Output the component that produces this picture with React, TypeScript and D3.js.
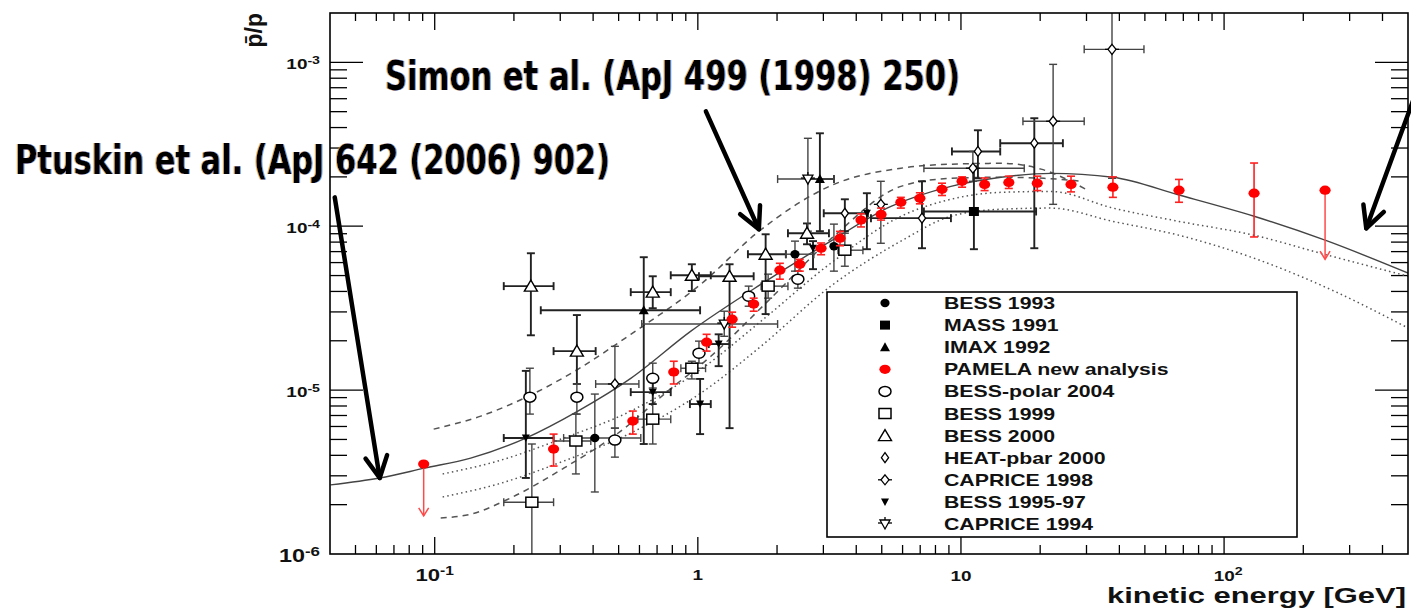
import React from "react";
import * as d3 from "d3";

const W = 1411;
const H = 612;

// axis domains
const X_DOMAIN: [number, number] = [0.04, 500];
const Y_DOMAIN: [number, number] = [1e-6, 2e-3];

// theory curves: [kinetic energy (GeV), pbar/p]
const PTUSKIN_2006: [number, number][] = [
  [0.0402, 2.64e-6], [0.0618, 2.91e-6], [0.0916, 3.34e-6], [0.137, 3.85e-6],
  [0.222, 5.1e-6], [0.35, 7.45e-6], [0.556, 1.18e-5], [0.941, 2.29e-5],
  [1.74, 4.43e-5], [3.2, 8.11e-5], [5.42, 1.32e-4], [9.16, 1.75e-4],
  [14.2, 1.99e-4], [22.0, 2.1e-4], [37.8, 1.99e-4], [67.4, 1.55e-4],
  [130, 1.15e-4], [242, 8.22e-5], [501, 5.17e-5],
];
const SIMON_UPPER: [number, number][] = [
  [0.0991, 5.78e-6], [0.1496, 6.94e-6], [0.2317, 9.33e-6], [0.3499, 1.34e-5],
  [0.5559, 2.19e-5], [1.027, 4.43e-5], [1.69, 9.19e-5], [3.289, 1.8e-4],
  [5.913, 2.26e-4], [9.16, 2.39e-4], [14.19, 2.42e-4], [20.16, 2.23e-4],
  [29.87, 1.68e-4],
];
const SIMON_LOWER: [number, number][] = [
  [0.1054, 1.66e-6], [0.1371, 1.75e-6], [0.1946, 2.2e-6], [0.3093, 3.34e-6],
  [0.5094, 5.62e-6], [0.7689, 9.86e-6], [1.121, 1.61e-5], [1.846, 3.49e-5],
  [3.289, 8.69e-5], [5.913, 1.75e-4], [9.16, 1.96e-4], [14.19, 1.99e-4],
  [20.69, 1.96e-4], [29.1, 1.88e-4],
];
const DONATO_UPPER: [number, number][] = [
  [0.1072, 3.08e-6], [0.1737, 3.69e-6], [0.3093, 5.1e-6], [0.5559, 7.45e-6],
  [1.027, 1.34e-5], [1.737, 2.63e-5], [3.203, 5.95e-5], [5.913, 1.15e-4],
  [9.16, 1.46e-4], [14.19, 1.61e-4], [21.99, 1.63e-4], [37.84, 1.29e-4],
  [67.4, 1.07e-4], [130, 8.81e-5], [239.9, 6.75e-5], [500.8, 4.95e-5],
];
const DONATO_LOWER: [number, number][] = [
  [0.1072, 2.23e-6], [0.1737, 2.67e-6], [0.3093, 3.69e-6], [0.5559, 5.47e-6],
  [1.027, 9.59e-6], [1.737, 1.85e-5], [3.203, 4.31e-5], [5.913, 8.11e-5],
  [9.16, 1.15e-4], [14.19, 1.27e-4], [21.99, 1.29e-4], [37.84, 1.07e-4],
  [67.4, 8.81e-5], [130, 6.38e-5], [261.8, 4.02e-5], [500.8, 2.39e-5],
];

// PAMELA new analysis
const PAMELA_E = [0.283, 0.566, 0.81, 1.08, 1.35, 1.63, 2.05, 2.44, 2.94, 3.47, 4.17, 4.97, 5.91, 6.98, 8.47, 10.1, 12.3, 15.2, 19.5, 26.2, 37.8, 67.4, 130];
const PAMELA_V = [4.37e-6, 6.47e-6, 1.29e-5, 1.96e-5, 2.71e-5, 3.35e-5, 5.39e-5, 5.86e-5, 7.34e-5, 8.45e-5, 1.09e-4, 1.18e-4, 1.4e-4, 1.48e-4, 1.68e-4, 1.88e-4, 1.8e-4, 1.85e-4, 1.83e-4, 1.8e-4, 1.73e-4, 1.66e-4, 1.59e-4];
const PAMELA_LO = [3.44e-6, 5.39e-6, 1.09e-5, 1.73e-5, 2.42e-5, 3.03e-5, 4.75e-5, 5.32e-5, 6.7e-5, 7.6e-5, 9.9e-5, 1.09e-4, 1.29e-4, 1.37e-4, 1.54e-4, 1.73e-4, 1.65e-4, 1.7e-4, 1.65e-4, 1.62e-4, 1.5e-4, 1.4e-4, 8.6e-5];
const PAMELA_HI = [5.39e-6, 7.45e-6, 1.5e-5, 2.19e-5, 2.99e-5, 3.64e-5, 5.94e-5, 6.28e-5, 7.9e-5, 9.3e-5, 1.19e-4, 1.29e-4, 1.5e-4, 1.6e-4, 1.83e-4, 2.0e-4, 1.97e-4, 2.02e-4, 2.02e-4, 2.02e-4, 2.0e-4, 1.93e-4, 2.43e-4];
// PAMELA upper limits: energy, central value, arrow end
const PAMELA_UL_E = [0.0908, 242];
const PAMELA_UL_V = [3.54e-6, 1.66e-4];
const PAMELA_UL_END = [1.71e-6, 6.29e-5];

// other experiments: [E, ratio, Emin, Emax, ratioMin, ratioMax]
type Row = [number, number, number, number, number, number];
const BESS_1993: Row[] = [
  [0.406, 5.1e-6, 0.309, 0.607, 2.39e-6, 9.46e-6],
  [2.34, 6.75e-5, 2.16, 2.76, 5.32e-5, 8.11e-5],
  [3.29, 7.55e-5, 3.29, 3.29, 5.32e-5, 1.03e-4],
];
const MASS_1991: Row[] = [[11.2, 1.23e-4, 7.23, 19.3, 7.24e-5, 2.32e-4]];
const IMAX_1992: Row[] = [
  [0.623, 3.07e-5, 0.253, 1.02, 4.69e-6, 6.47e-5],
  [2.91, 1.94e-4, 2.62, 3.29, 9.33e-5, 3.69e-4],
];
const BESS_POLAR_2004: Row[] = [
  [0.23, 9.06e-6, 0.23, 0.23, 7.14e-6, 1.36e-5],
  [0.347, 9.06e-6, 0.347, 0.347, 7.14e-6, 1.09e-5],
  [0.484, 4.96e-6, 0.484, 0.484, 3.9e-6, 5.86e-6],
  [0.674, 1.18e-5, 0.674, 0.674, 1.03e-5, 1.46e-5],
  [1.01, 1.68e-5, 1.01, 1.01, 1.46e-5, 1.99e-5],
  [1.56, 3.74e-5, 1.56, 1.56, 3.25e-5, 4.31e-5],
  [2.4, 4.75e-5, 2.4, 2.4, 4.19e-5, 5.32e-5],
];
const BESS_1999: Row[] = [
  [0.234, 2.07e-6, 0.183, 0.283, 9.5e-7, 4.69e-6],
  [0.344, 4.89e-6, 0.283, 0.392, 3.08e-6, 7.14e-6],
  [0.674, 6.65e-6, 0.591, 0.789, 4.69e-6, 9.59e-6],
  [0.949, 1.36e-5, 0.862, 1.07, 1.17e-5, 1.5e-5],
  [1.85, 4.31e-5, 1.74, 2.2, 3.64e-5, 5.1e-5],
  [3.62, 7.14e-5, 3.41, 4.24, 5.7e-5, 9.06e-5],
];
const BESS_2000: Row[] = [
  [0.232, 4.31e-5, 0.183, 0.283, 2.16e-5, 6.84e-5],
  [0.347, 1.73e-5, 0.283, 0.409, 1.09e-5, 2.87e-5],
  [0.674, 3.96e-5, 0.556, 0.789, 3.16e-5, 4.95e-5],
  [0.949, 5.02e-5, 0.789, 1.12, 4.02e-5, 5.86e-5],
  [1.32, 4.95e-5, 1.01, 1.63, 5.86e-6, 5.86e-5],
  [1.81, 6.75e-5, 1.55, 2.16, 2.91e-5, 8.93e-5],
  [2.6, 9.06e-5, 2.2, 3.15, 7.76e-5, 1.04e-4],
];
const HEAT_PBAR_2000: Row[] = [
  [3.62, 1.2e-4, 3.01, 4.43, 9.33e-5, 1.46e-4],
  [7.11, 1.12e-4, 4.55, 9.16, 7.34e-5, 1.88e-4],
  [11.6, 2.86e-4, 9.24, 14.1, 1.96e-4, 3.85e-4],
  [19.0, 3.21e-4, 14.1, 24.4, 7.34e-5, 4.56e-4],
];
const CAPRICE_1998: Row[] = [
  [0.484, 1.09e-5, 0.409, 0.597, 5.86e-6, 1.85e-5],
  [4.96, 1.36e-4, 4.96, 4.96, 7.87e-5, 1.88e-4],
  [11.1, 2.26e-4, 7.23, 17.4, 1.88e-4, 2.86e-4],
  [22.4, 4.37e-4, 17.2, 29.4, 1.36e-4, 9.72e-4],
  [37.5, 1.2e-3, 29.4, 49.6, 1.96e-4, 2.5e-3],
];
const BESS_1995_97: Row[] = [
  [0.222, 5.1e-6, 0.183, 0.283, 2.91e-6, 1.31e-5],
  [0.674, 9.72e-6, 0.556, 0.789, 8.22e-6, 1.17e-5],
  [1.02, 8.22e-6, 0.933, 1.12, 5.39e-6, 1.17e-5],
  [1.2, 1.91e-5, 1.1, 1.32, 1.4e-5, 2.19e-5],
  [2.74, 7.34e-5, 2.74, 2.74, 5.47e-5, 8.11e-5],
  [4.39, 1.2e-4, 4.39, 4.39, 7.24e-5, 1.59e-4],
];
const CAPRICE_1994: Row[] = [
  [1.26, 2.53e-5, 0.612, 2.01, 2.13e-5, 3.03e-5],
  [2.62, 1.94e-4, 2.01, 3.29, 9.33e-5, 3.44e-4],
];

const LEGEND_LABELS = [
  "BESS 1993", "MASS 1991", "IMAX 1992", "PAMELA new analysis", "BESS-polar 2004",
  "BESS 1999", "BESS 2000", "HEAT-pbar 2000", "CAPRICE 1998", "BESS 1995-97", "CAPRICE 1994",
];
const LEGEND_KINDS = [
  "bess93", "mass", "imax", "pamela", "polar", "bess99", "bess00", "heat", "caprice98", "bess9597", "caprice94",
];

const SERIES: { kind: string; rows: Row[] }[] = [
  { kind: "bess99", rows: BESS_1999 },
  { kind: "bess00", rows: BESS_2000 },
  { kind: "polar", rows: BESS_POLAR_2004 },
  { kind: "imax", rows: IMAX_1992 },
  { kind: "caprice94", rows: CAPRICE_1994 },
  { kind: "heat", rows: HEAT_PBAR_2000 },
  { kind: "caprice98", rows: CAPRICE_1998 },
  { kind: "bess9597", rows: BESS_1995_97 },
  { kind: "bess93", rows: BESS_1993 },
  { kind: "mass", rows: MASS_1991 },
];

// annotation arrows in data coordinates: [E0, v0, E1, v1] (tail -> tip)
const ARROWS: [number, number, number, number][] = [
  [0.0417, 1.5e-4, 0.0618, 2.91e-6],
  [1.073, 5.02e-4, 1.706, 9.59e-5],
  [542, 6.84e-4, 347, 9.72e-5],
];

const FONT = "'Liberation Sans', Arial, Helvetica, sans-serif";
const NARROW = "'Liberation Sans Narrow', 'Arial Narrow', 'DejaVu Sans Condensed', sans-serif";

const xS = d3.scaleLog().domain(X_DOMAIN).range([330, 1408]);
const yS = d3.scaleLog().domain(Y_DOMAIN).range([554, 13]);

function Marker({ kind, cx, cy }: { kind: string; cx: number; cy: number }) {
  switch (kind) {
    case "bess93":
      return <ellipse cx={cx} cy={cy} rx={4.6} ry={4.2} fill="#000" />;
    case "mass":
      return <rect x={cx - 5} y={cy - 4.5} width={10} height={9} fill="#000" />;
    case "imax":
      return <path d={`M${cx - 5},${cy + 4} L${cx + 5},${cy + 4} L${cx},${cy - 5} Z`} fill="#000" />;
    case "pamela":
      return <ellipse cx={cx} cy={cy} rx={5.6} ry={4.6} fill="#ff0000" />;
    case "polar":
      return <ellipse cx={cx} cy={cy} rx={6} ry={5} fill="#fff" stroke="#000" strokeWidth={1.5} />;
    case "bess99":
      return <rect x={cx - 6} y={cy - 5} width={12} height={10} fill="#fff" stroke="#000" strokeWidth={1.5} />;
    case "bess00":
      return <path d={`M${cx - 6.5},${cy + 5} L${cx + 6.5},${cy + 5} L${cx},${cy - 6} Z`} fill="#fff" stroke="#000" strokeWidth={1.4} />;
    case "heat":
      return <path d={`M${cx},${cy - 5} L${cx + 3.6},${cy} L${cx},${cy + 5} L${cx - 3.6},${cy} Z`} fill="#fff" stroke="#000" strokeWidth={1.3} />;
    case "caprice98":
      return (
        <g stroke="#000" strokeWidth={1.3}>
          <path d={`M${cx},${cy - 5} L${cx + 4},${cy} L${cx},${cy + 5} L${cx - 4},${cy} Z`} fill="#fff" />
          <line x1={cx - 7} y1={cy} x2={cx - 4} y2={cy} />
          <line x1={cx + 4} y1={cy} x2={cx + 7} y2={cy} />
        </g>
      );
    case "bess9597":
      return <path d={`M${cx - 4},${cy - 3.5} L${cx + 4},${cy - 3.5} L${cx},${cy + 4} Z`} fill="#000" />;
    case "caprice94":
      return (
        <g stroke="#000" strokeWidth={1.3}>
          <path d={`M${cx - 5},${cy - 4} L${cx + 5},${cy - 4} L${cx},${cy + 5} Z`} fill="#fff" />
          <line x1={cx - 7} y1={cy - 1} x2={cx - 3} y2={cy - 1} />
          <line x1={cx + 3} y1={cy - 1} x2={cx + 7} y2={cy - 1} />
          <line x1={cx} y1={cy - 7} x2={cx} y2={cy - 4} />
        </g>
      );
    default:
      return null;
  }
}

function ErrorBars({ r, color, w }: { r: Row; color: string; w: number }) {
  const cx = xS(r[0]);
  const cy = yS(r[1]);
  const x0 = xS(r[2]);
  const x1 = xS(r[3]);
  const yLo = yS(r[4]);
  const yHi = yS(r[5]);
  const c = 4;
  return (
    <g stroke={color} strokeWidth={w} fill="none">
      <line x1={cx} y1={yHi} x2={cx} y2={yLo} />
      <line x1={cx - c} y1={yHi} x2={cx + c} y2={yHi} />
      <line x1={cx - c} y1={yLo} x2={cx + c} y2={yLo} />
      {x1 - x0 > 1 && (
        <>
          <line x1={x0} y1={cy} x2={x1} y2={cy} />
          <line x1={x0} y1={cy - c} x2={x0} y2={cy + c} />
          <line x1={x1} y1={cy - c} x2={x1} y2={cy + c} />
        </>
      )}
    </g>
  );
}

function Pow({ x, y, base, exp, fs, efs, dy, sx, anchor }: {
  x: number; y: number; base: string; exp?: string; fs: number; efs?: number; dy?: number; sx: number; anchor: string;
}) {
  return (
    <text
      transform={`translate(${x},${y}) scale(${sx},1)`}
      textAnchor={anchor as any}
      fontFamily={FONT}
      fontWeight="bold"
      fontSize={fs}
      fill="#111"
    >
      {base}
      {exp && (
        <tspan dy={dy} fontSize={efs}>
          {exp}
        </tspan>
      )}
    </text>
  );
}

function Arrow({ a }: { a: [number, number, number, number] }) {
  const x0 = xS(a[0]);
  const y0 = yS(a[1]);
  const x1 = xS(a[2]);
  const y1 = yS(a[3]);
  const len = Math.hypot(x1 - x0, y1 - y0);
  const bx = (x0 - x1) / len;
  const by = (y0 - y1) / len;
  const th = (27 * Math.PI) / 180;
  const L = 24;
  const w1x = x1 + L * (bx * Math.cos(th) - by * Math.sin(th));
  const w1y = y1 + L * (bx * Math.sin(th) + by * Math.cos(th));
  const w2x = x1 + L * (bx * Math.cos(-th) - by * Math.sin(-th));
  const w2y = y1 + L * (bx * Math.sin(-th) + by * Math.cos(-th));
  return (
    <g stroke="#000" strokeWidth={4.5} strokeLinecap="round" strokeLinejoin="round" fill="none">
      <line x1={x0} y1={y0} x2={x1} y2={y1} />
      <polyline points={`${w1x},${w1y} ${x1},${y1} ${w2x},${w2y}`} />
    </g>
  );
}

function Annotation({ x, y, fs, len, text }: { x: number; y: number; fs: number; len: number; text: string }) {
  return (
    <text
      x={x}
      y={y}
      fill="#000"
      fontFamily={NARROW}
      fontWeight="bold"
      fontSize={fs}
      textLength={len}
      lengthAdjust="spacingAndGlyphs"
      filter="url(#fringe)"
    >
      {text}
    </text>
  );
}

export default function App() {
  const line = d3
    .line<[number, number]>()
    .x((d) => xS(d[0]))
    .y((d) => yS(d[1]))
    .curve(d3.curveMonotoneX);

  const xTicks: { v: number; major: boolean }[] = [];
  for (let p = -2; p <= 2; p++)
    for (let k = 1; k <= 9; k++) {
      const v = k * Math.pow(10, p);
      if (v > X_DOMAIN[0] * 1.001 && v < X_DOMAIN[1] * 0.999) xTicks.push({ v, major: k === 1 });
    }
  const yTicks: { v: number; major: boolean }[] = [];
  for (let p = -6; p <= -3; p++)
    for (let k = 1; k <= 9; k++) {
      const v = k * Math.pow(10, p);
      if (v > Y_DOMAIN[0] * 1.001 && v < Y_DOMAIN[1] * 0.999) yTicks.push({ v, major: k === 1 });
    }

  const [L, R] = xS.range();
  const [B, T] = yS.range();

  const legendX = 827;
  const legendY = 292;
  const rowH = 22.1;

  return (
    <svg
      width={W}
      height={H}
      viewBox={`0 0 ${W} ${H}`}
      style={{ position: "absolute", left: 0, top: 0, background: "#fff" }}
    >
      <defs>
        <clipPath id="plotArea">
          <rect x={L} y={T} width={R - L} height={B - T} />
        </clipPath>
        {/* soft colour fringes around the big annotation lettering */}
        <filter id="fringe" x="-3%" y="-20%" width="106%" height="140%">
          <feOffset in="SourceAlpha" dx={-1.3} dy={0} result="oL" />
          <feFlood floodColor="#e08a10" floodOpacity={0.65} result="fL" />
          <feComposite in="fL" in2="oL" operator="in" result="cL" />
          <feOffset in="SourceAlpha" dx={1.3} dy={0} result="oR" />
          <feFlood floodColor="#2a74d8" floodOpacity={0.65} result="fR" />
          <feComposite in="fR" in2="oR" operator="in" result="cR" />
          <feMerge>
            <feMergeNode in="cL" />
            <feMergeNode in="cR" />
            <feMergeNode in="SourceGraphic" />
          </feMerge>
        </filter>
      </defs>
      <rect x={0} y={0} width={W} height={H} fill="#fff" />

      {/* ticks */}
      <g stroke="#000" strokeWidth={1.3}>
        {xTicks.map((t, i) => {
          const x = xS(t.v);
          const len = t.major ? 17 : 9;
          return (
            <g key={"xt" + i}>
              <line x1={x} y1={B} x2={x} y2={B - len} />
              <line x1={x} y1={T} x2={x} y2={T + (t.major ? 17 : 8)} />
            </g>
          );
        })}
        {yTicks.map((t, i) => {
          const y = yS(t.v);
          const len = t.major ? 33 : 17;
          return (
            <g key={"yt" + i}>
              <line x1={L} y1={y} x2={L + len} y2={y} />
              <line x1={R} y1={y} x2={R - len} y2={y} />
            </g>
          );
        })}
      </g>

      {/* theory curves */}
      <g clipPath="url(#plotArea)" fill="none">
        <path d={line(DONATO_UPPER) || ""} stroke="#555" strokeWidth={1.5} strokeDasharray="1.5,3.2" />
        <path d={line(DONATO_LOWER) || ""} stroke="#555" strokeWidth={1.5} strokeDasharray="1.5,3.2" />
        <path d={line(SIMON_UPPER) || ""} stroke="#555" strokeWidth={1.5} strokeDasharray="6,5" />
        <path d={line(SIMON_LOWER) || ""} stroke="#555" strokeWidth={1.5} strokeDasharray="6,5" />
        <path d={line(PTUSKIN_2006) || ""} stroke="#444" strokeWidth={1.4} />
      </g>

      {/* measurements */}
      <g clipPath="url(#plotArea)">
        {SERIES.map((s, si) =>
          s.rows.map((r, i) => <ErrorBars key={`e${si}-${i}`} r={r} color={si % 2 ? "#222" : "#444"} w={si % 2 ? 1.9 : 1.4} />)
        )}
        {SERIES.map((s, si) =>
          s.rows.map((r, i) => <Marker key={`m${si}-${i}`} kind={s.kind} cx={xS(r[0])} cy={yS(r[1])} />)
        )}

        {PAMELA_E.map((e, i) => (
          <ErrorBars key={"pe" + i} r={[e, PAMELA_V[i], e, e, PAMELA_LO[i], PAMELA_HI[i]]} color="#ff2020" w={1.6} />
        ))}
        {PAMELA_UL_E.map((e, i) => {
          const cx = xS(e);
          const y0 = yS(PAMELA_UL_V[i]);
          const y1 = yS(PAMELA_UL_END[i]);
          return (
            <g key={"ul" + i} stroke="#ff4a4a" strokeWidth={1.5} fill="none">
              <line x1={cx} y1={y0} x2={cx} y2={y1} />
              <polyline points={`${cx - 5},${y1 - 8} ${cx},${y1} ${cx + 5},${y1 - 8}`} />
            </g>
          );
        })}
        {PAMELA_E.map((e, i) => (
          <Marker key={"pm" + i} kind="pamela" cx={xS(e)} cy={yS(PAMELA_V[i])} />
        ))}
        {PAMELA_UL_E.map((e, i) => (
          <Marker key={"pu" + i} kind="pamela" cx={xS(e)} cy={yS(PAMELA_UL_V[i])} />
        ))}
      </g>

      {/* legend */}
      <rect x={legendX} y={legendY} width={470} height={245} fill="#fff" stroke="#000" strokeWidth={1.6} />
      {LEGEND_LABELS.map((lab, i) => {
        const cy = legendY + 11 + i * rowH;
        return (
          <g key={"lg" + i}>
            <Marker kind={LEGEND_KINDS[i]} cx={885} cy={cy} />
            <text
              transform={`translate(944,${cy + 6}) scale(1.29,1)`}
              fontFamily={FONT}
              fontWeight="bold"
              fontSize={16.5}
              fill="#111"
            >
              {lab}
            </text>
          </g>
        );
      })}

      {/* frame */}
      <rect x={L} y={T} width={R - L} height={B - T} fill="none" stroke="#000" strokeWidth={1.6} />

      {/* axis labels */}
      {[1e-3, 1e-4, 1e-5].map((v) => (
        <Pow key={"yl" + v} x={320} y={yS(v) + 7} base="10" exp={String(Math.round(Math.log10(v)))} fs={14} efs={10.5} dy={-5} sx={1.35} anchor="end" />
      ))}
      <Pow x={320} y={yS(1e-6) + 8} base="10" exp="-6" fs={18} efs={13} dy={-6} sx={1.3} anchor="end" />
      <Pow x={xS(0.1)} y={581} base="10" exp="-1" fs={17} efs={12} dy={-6} sx={1.3} anchor="middle" />
      <Pow x={xS(1)} y={580} base="1" fs={14} sx={1.35} anchor="middle" />
      <Pow x={xS(10)} y={581} base="10" fs={14} sx={1.35} anchor="middle" />
      <Pow x={xS(100) + 4} y={581} base="10" exp="2" fs={14} efs={10.5} dy={-6} sx={1.35} anchor="middle" />

      <text
        x={1107}
        y={603}
        fontFamily={FONT}
        fontWeight="bold"
        fontSize={22}
        textLength={299}
        lengthAdjust="spacingAndGlyphs"
        fill="#111"
      >
        kinetic energy [GeV]
      </text>
      <text
        transform="translate(262,13) rotate(-90)"
        textAnchor="end"
        fontFamily={FONT}
        fontWeight="bold"
        fontSize={23}
        fill="#111"
      >
        {"p\u0304/p"}
      </text>

      {/* model annotations */}
      {ARROWS.map((a, i) => (
        <Arrow key={"ar" + i} a={a} />
      ))}
      <Annotation x={385} y={90} fs={40} len={575} text="Simon et al. (ApJ 499 (1998) 250)" />
      <Annotation x={15} y={174} fs={41} len={595} text="Ptuskin et al. (ApJ 642 (2006) 902)" />
    </svg>
  );
}
